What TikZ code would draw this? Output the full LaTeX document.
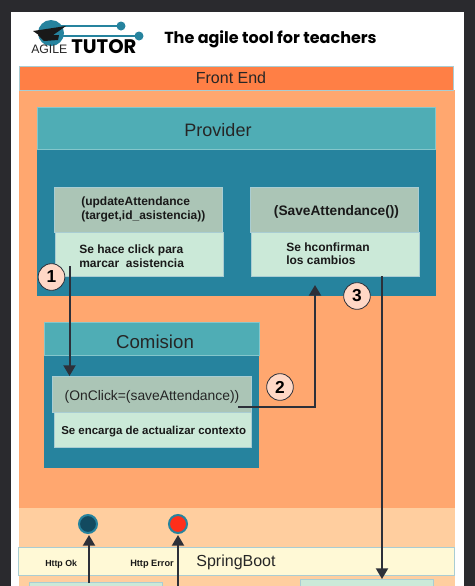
\documentclass[tikz,border=0pt]{standalone}
\usepackage{fontspec}
\setmainfont{Liberation Sans}
\newfontfamily\tagfont{Poppins}
\usetikzlibrary{arrows.meta}
\definecolor{framedark}{HTML}{2A2A2E}
\definecolor{frontbar}{HTML}{FF7F45}
\definecolor{frontzone}{HTML}{FFA76F}
\definecolor{backzone}{HTML}{FFCE9F}
\definecolor{backbar}{HTML}{FFF9D6}
\definecolor{tealhead}{HTML}{4FADB5}
\definecolor{tealbody}{HTML}{26839E}
\definecolor{sagehead}{HTML}{ABC5B6}
\definecolor{mintbody}{HTML}{CBE9D8}
\definecolor{edgeblue}{HTML}{A9CDD3}
\definecolor{stepfill}{HTML}{FFD8C6}
\definecolor{linedark}{HTML}{2D3039}
\definecolor{dotdark}{HTML}{124A60}
\definecolor{dotred}{HTML}{FF2F1A}
\tikzset{
  panel/.style={
    rectangle,
    anchor=north west,
    inner sep=0pt,
    line width=0.6pt,
  },
  bar/.style={
    panel,
    draw=edgeblue,
  },
  head/.style={
    panel,
    draw=tealhead!70!white,
    fill=tealhead,
  },
  body/.style={
    panel,
    fill=tealbody,
  },
  call/.style={
    panel,
    draw=edgeblue,
    fill=sagehead,
  },
  note/.style={
    panel,
    draw=edgeblue,
    fill=mintbody,
  },
  title/.style={
    inner sep=0pt,
    text=black!85,
    font=\fontsize{12}{14}\selectfont,
  },
  boldtext/.style={
    align=left,
    inner sep=0pt,
    anchor=west,
    text=black!90,
    font=\fontsize{9}{10.5}\selectfont\bfseries,
  },
  stepmark/.style={
    circle,
    minimum size=20pt,
    inner sep=0pt,
    line width=0.6pt,
    draw=linedark,
    fill=stepfill,
    font=\fontsize{13}{15}\selectfont\bfseries,
  },
  statusdot/.style={
    circle,
    minimum size=13.5pt,
    inner sep=0pt,
    line width=1.5pt,
    draw=tealbody,
  },
  flow/.style={
    line width=1.5pt,
    draw=linedark,
  },
  flowarrow/.style={
    flow,
    -{Triangle[length=8pt,width=9pt]},
  },
}

\begin{document}
\begin{tikzpicture}[x=0.75pt,y=-0.75pt]
  \useasboundingbox (0,0) rectangle (475,586);
  \fill[framedark] (0,0) rectangle (475,586);
  \fill[white] (11,12) rectangle (464,586);

  % Logo.
  \fill[tealbody] (51,33) circle (13);
  \draw[tealbody, line width=1.2pt] (60,26) -- (121,26);
  \draw[tealbody, line width=1.2pt] (60,36) -- (139,36);
  \fill[tealbody] (121,26) circle (4.5);
  \fill[tealbody] (139,36) circle (4.5);
  \fill[black!90] (33,31) -- (66,26) -- (46,40) -- cycle;
  \fill[black!90] (38,35) -- (59,35) -- (58,40) -- (44,41) -- cycle;
  \node[inner sep=0pt, anchor=base west, font=\fontsize{9.2}{12}\selectfont, text=black!85] (logoagile) at (31,53) {AGILE};
  \node[inner sep=0pt, anchor=base west, font=\tagfont\fontsize{14.7}{18}\selectfont\bfseries, text=black] (logotutor) at (71,53) {TUTOR};
  \node[inner sep=0pt, anchor=base west, font=\tagfont\fontsize{12}{14}\selectfont\bfseries, text=black] (tagline) at (164,43) {The agile tool for teachers};

  % Backgrounds of the two layers.
  \fill[frontzone] (19,90) rectangle (455,508);
  \fill[backzone] (19,508) rectangle (455,586);
  \node[bar, fill=frontbar, minimum width=326pt, minimum height=18pt] (frontend) at (18.5,65.5) {};
  \node[title] (frontendtext) at (231,78) {Front End};
  \node[bar, fill=backbar, minimum width=327pt, minimum height=21pt] (springboot) at (18,547) {};
  \node[title] (springboottext) at (236,562.5) {SpringBoot};

  % Provider.
  \node[body, minimum width=299pt, minimum height=142pt] (providerbody) at (36.5,106.5) {};
  \node[head, minimum width=299pt, minimum height=31.5pt] (provider) at (36.5,106.5) {};
  \node[title, font=\fontsize{13.5}{16}\selectfont] (providertext) at (218,130) {Provider};
  \node[call, minimum width=126.5pt, minimum height=34pt] (updatecall) at (53.5,187) {};
  \node[note, minimum width=126pt, minimum height=33pt] (updatenote) at (54.5,232) {};
  \node[call, minimum width=126.5pt, minimum height=34pt] (savecall) at (249.5,187) {};
  \node[note, minimum width=126pt, minimum height=33pt] (savenote) at (250.5,232) {};
  \node[boldtext] (updatetext) at (81,209) {(updateAttendance\\(target,id\_asistencia))};
  \node[boldtext] (updatedesc) at (79,256) {Se hace click para\\marcar\ \ asistencia};
  \node[boldtext, anchor=center, font=\fontsize{10.3}{12}\selectfont\bfseries] (savetext) at (336.5,212) {(SaveAttendance())};
  \node[boldtext, font=\fontsize{9}{9.8}\selectfont\bfseries] (savedesc) at (286,254) {Se hconfirman\\los cambios};

  % Comision.
  \node[body, minimum width=161.5pt, minimum height=109.5pt] (comisionbody) at (43.5,322) {};
  \node[head, minimum width=161.5pt, minimum height=25pt] (comision) at (43.5,322) {};
  \node[title, font=\fontsize{14}{16}\selectfont] (comisiontext) at (155,342) {Comision};
  \node[call, minimum width=149pt, minimum height=27pt] (clickcall) at (52,376) {};
  \node[note, minimum width=147.5pt, minimum height=26pt] (clicknote) at (54,412) {};
  \node[title, font=\fontsize{10.4}{12}\selectfont] (clicktext) at (152,397) {(OnClick=(saveAttendance))};
  \node[boldtext, font=\fontsize{8.6}{10}\selectfont\bfseries] (clickdesc) at (61,431.5) {Se encarga de actualizar contexto};

  % Status dots and their labels.
  \node[statusdot, fill=dotdark] (okdot) at (88,524) {};
  \node[statusdot, fill=dotred] (errordot) at (178,524) {};
  \node[boldtext, font=\fontsize{6.6}{8}\selectfont\bfseries] (oktext) at (45,564) {Http Ok};
  \node[boldtext, font=\fontsize{6.9}{8}\selectfont\bfseries] (errortext) at (130,564) {Http Error};

  % Service boxes cut by the page edge.
  \node[note, minimum width=100pt, minimum height=12pt] (okbox) at (29,582) {};
  \node[note, minimum width=100pt, minimum height=12pt] (savebox) at (300,579) {};

  % Anchors of the connectors.
  \coordinate (startone) at (69.5,266);
  \coordinate (endone) at (69.5,376);
  \coordinate (starttwo) at (238,407);
  \coordinate (bendtwo) at (315,407);
  \coordinate (endtwo) at (315,285);
  \coordinate (startthree) at (382,276);
  \coordinate (endthree) at (382,579);
  \coordinate (startok) at (89,583);
  \coordinate (endok) at (89,535);
  \coordinate (starterror) at (178,586);
  \coordinate (enderror) at (178,535);

  \draw[flowarrow] (startone) -- (endone);
  \draw[flowarrow] (starttwo) -- (bendtwo) -- (endtwo);
  \draw[flowarrow] (startthree) -- (endthree);
  \draw[flowarrow] (startok) -- (endok);
  \draw[flowarrow] (starterror) -- (enderror);

  % Numbered steps.
  \node[stepmark] (stepone) at (51.5,277) {1};
  \node[stepmark] (steptwo) at (280,387) {2};
  \node[stepmark] (stepthree) at (357,296) {3};
\end{tikzpicture}
\end{document}
